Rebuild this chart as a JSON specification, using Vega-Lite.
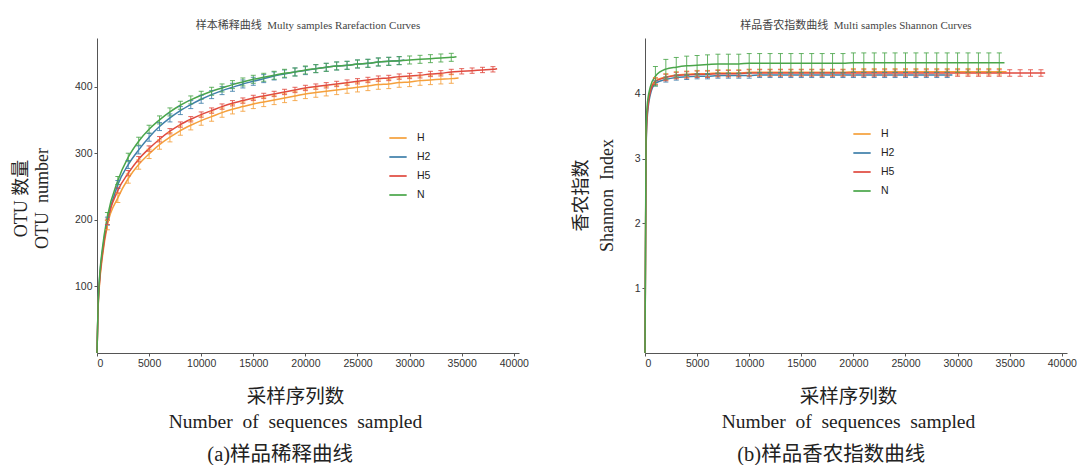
{
"$schema": "https://vega.github.io/schema/vega-lite/v6.json",
"padding": {"left": 12, "top": 20, "right": 0, "bottom": 0},
"background": "white",
"spacing": 43,
"config": {
  "view": {"stroke": null},
  "axis": {"grid": false, "labelFont": "Liberation Sans", "labelFontSize": 10.5, "labelColor": "#333", "domainColor": "#555", "tickColor": "#555", "tickSize": 3, "titleFont": "Liberation Serif, Noto Sans CJK SC", "titleFontSize": 18, "titleFontWeight": "normal", "titleColor": "#222"},
  "legend": {"orient": "none", "symbolType": "stroke", "symbolSize": 300, "symbolStrokeWidth": 2, "labelFont": "Liberation Sans", "labelFontSize": 10.5, "labelColor": "#222", "rowPadding": 3, "labelOffset": 9, "padding": 0},
  "title": {"font": "Liberation Serif, Noto Sans CJK SC", "fontSize": 11, "fontWeight": "normal", "color": "#444", "offset": 7, "anchor": "middle"}
},
"resolve": {"scale": {"color": "independent"}},
"datasets": {
"otu": [
{"g":"H","x":0,"y":0,"e":0},{"g":"H","x":100,"y":64,"e":0},{"g":"H","x":250,"y":105,"e":0},{"g":"H","x":500,"y":142,"e":0},
{"g":"H","x":1000,"y":192,"e":7},{"g":"H","x":2000,"y":233,"e":7},{"g":"H","x":3000,"y":262,"e":7},{"g":"H","x":4000,"y":283,"e":7},{"g":"H","x":5000,"y":299,"e":7},{"g":"H","x":6000,"y":313,"e":7},{"g":"H","x":7000,"y":324,"e":7},{"g":"H","x":8000,"y":334,"e":7},{"g":"H","x":9000,"y":342,"e":7},{"g":"H","x":10000,"y":349,"e":7},
{"g":"H","x":11000,"y":355,"e":7},{"g":"H","x":12000,"y":361,"e":7},{"g":"H","x":13000,"y":366,"e":7},{"g":"H","x":14000,"y":370,"e":7},{"g":"H","x":15000,"y":374,"e":7},{"g":"H","x":16000,"y":377,"e":7},{"g":"H","x":17000,"y":380,"e":7},{"g":"H","x":18000,"y":383,"e":7},{"g":"H","x":19000,"y":386,"e":7},{"g":"H","x":20000,"y":389,"e":7},
{"g":"H","x":21000,"y":391,"e":7},{"g":"H","x":22000,"y":393,"e":7},{"g":"H","x":23000,"y":395,"e":7},{"g":"H","x":24000,"y":397,"e":7},{"g":"H","x":25000,"y":399,"e":7},{"g":"H","x":26000,"y":401,"e":7},{"g":"H","x":27000,"y":403,"e":7},{"g":"H","x":28000,"y":404,"e":7},{"g":"H","x":29000,"y":406,"e":7},{"g":"H","x":30000,"y":407,"e":7},
{"g":"H","x":31000,"y":409,"e":7},{"g":"H","x":32000,"y":410,"e":7},{"g":"H","x":33000,"y":411,"e":7},{"g":"H","x":34000,"y":412,"e":7},{"g":"H","x":34700,"y":413,"e":0},
{"g":"H2","x":0,"y":0,"e":0},{"g":"H2","x":100,"y":68,"e":0},{"g":"H2","x":250,"y":112,"e":0},{"g":"H2","x":500,"y":150,"e":0},
{"g":"H2","x":1000,"y":198,"e":6},{"g":"H2","x":2000,"y":253,"e":6},{"g":"H2","x":3000,"y":283,"e":6},{"g":"H2","x":4000,"y":305,"e":6},{"g":"H2","x":5000,"y":324,"e":6},{"g":"H2","x":6000,"y":340,"e":6},{"g":"H2","x":7000,"y":353,"e":6},{"g":"H2","x":8000,"y":364,"e":6},{"g":"H2","x":9000,"y":373,"e":6},{"g":"H2","x":10000,"y":381,"e":6},
{"g":"H2","x":11000,"y":388,"e":6},{"g":"H2","x":12000,"y":394,"e":6},{"g":"H2","x":13000,"y":399,"e":6},{"g":"H2","x":14000,"y":404,"e":6},{"g":"H2","x":15000,"y":408,"e":6},{"g":"H2","x":16000,"y":412,"e":6},{"g":"H2","x":17000,"y":416,"e":6},{"g":"H2","x":18000,"y":419,"e":6},{"g":"H2","x":19000,"y":422,"e":6},{"g":"H2","x":20000,"y":424,"e":6},
{"g":"H2","x":21000,"y":427,"e":6},{"g":"H2","x":22000,"y":429,"e":6},{"g":"H2","x":23000,"y":431,"e":6},{"g":"H2","x":24000,"y":432,"e":6},{"g":"H2","x":25000,"y":434,"e":6},{"g":"H2","x":26000,"y":435,"e":6},{"g":"H2","x":27000,"y":437,"e":6},{"g":"H2","x":28000,"y":438,"e":6},{"g":"H2","x":29000,"y":439,"e":6},{"g":"H2","x":29500,"y":440,"e":0},
{"g":"H5","x":0,"y":0,"e":0},{"g":"H5","x":100,"y":66,"e":0},{"g":"H5","x":250,"y":108,"e":0},{"g":"H5","x":500,"y":146,"e":0},
{"g":"H5","x":1000,"y":197,"e":4},{"g":"H5","x":2000,"y":244,"e":4},{"g":"H5","x":3000,"y":270,"e":4},{"g":"H5","x":4000,"y":291,"e":4},{"g":"H5","x":5000,"y":307,"e":4},{"g":"H5","x":6000,"y":321,"e":4},{"g":"H5","x":7000,"y":333,"e":4},{"g":"H5","x":8000,"y":343,"e":4},{"g":"H5","x":9000,"y":351,"e":4},{"g":"H5","x":10000,"y":358,"e":4},
{"g":"H5","x":11000,"y":364,"e":4},{"g":"H5","x":12000,"y":370,"e":4},{"g":"H5","x":13000,"y":375,"e":4},{"g":"H5","x":14000,"y":379,"e":4},{"g":"H5","x":15000,"y":383,"e":4},{"g":"H5","x":16000,"y":386,"e":4},{"g":"H5","x":17000,"y":389,"e":4},{"g":"H5","x":18000,"y":392,"e":4},{"g":"H5","x":19000,"y":395,"e":4},{"g":"H5","x":20000,"y":398,"e":4},
{"g":"H5","x":21000,"y":400,"e":4},{"g":"H5","x":22000,"y":402,"e":4},{"g":"H5","x":23000,"y":404,"e":4},{"g":"H5","x":24000,"y":406,"e":4},{"g":"H5","x":25000,"y":408,"e":4},{"g":"H5","x":26000,"y":410,"e":4},{"g":"H5","x":27000,"y":412,"e":4},{"g":"H5","x":28000,"y":413,"e":4},{"g":"H5","x":29000,"y":415,"e":4},{"g":"H5","x":30000,"y":416,"e":4},
{"g":"H5","x":31000,"y":417,"e":4},{"g":"H5","x":32000,"y":419,"e":4},{"g":"H5","x":33000,"y":420,"e":4},{"g":"H5","x":34000,"y":422,"e":4},{"g":"H5","x":35000,"y":423,"e":4},{"g":"H5","x":36000,"y":424,"e":4},{"g":"H5","x":37000,"y":425,"e":4},{"g":"H5","x":38000,"y":426,"e":4},{"g":"H5","x":38400,"y":427,"e":0},
{"g":"N","x":0,"y":0,"e":0},{"g":"N","x":100,"y":70,"e":0},{"g":"N","x":250,"y":115,"e":0},{"g":"N","x":500,"y":155,"e":0},
{"g":"N","x":1000,"y":205,"e":6},{"g":"N","x":2000,"y":259,"e":6},{"g":"N","x":3000,"y":294,"e":6},{"g":"N","x":4000,"y":318,"e":6},{"g":"N","x":5000,"y":336,"e":6},{"g":"N","x":6000,"y":350,"e":6},{"g":"N","x":7000,"y":362,"e":6},{"g":"N","x":8000,"y":372,"e":6},{"g":"N","x":9000,"y":380,"e":6},{"g":"N","x":10000,"y":387,"e":6},
{"g":"N","x":11000,"y":393,"e":6},{"g":"N","x":12000,"y":398,"e":6},{"g":"N","x":13000,"y":403,"e":6},{"g":"N","x":14000,"y":407,"e":6},{"g":"N","x":15000,"y":411,"e":6},{"g":"N","x":16000,"y":414,"e":6},{"g":"N","x":17000,"y":417,"e":6},{"g":"N","x":18000,"y":420,"e":6},{"g":"N","x":19000,"y":422,"e":6},{"g":"N","x":20000,"y":425,"e":6},
{"g":"N","x":21000,"y":427,"e":6},{"g":"N","x":22000,"y":429,"e":6},{"g":"N","x":23000,"y":431,"e":6},{"g":"N","x":24000,"y":432,"e":6},{"g":"N","x":25000,"y":434,"e":6},{"g":"N","x":26000,"y":435,"e":6},{"g":"N","x":27000,"y":437,"e":6},{"g":"N","x":28000,"y":438,"e":6},{"g":"N","x":29000,"y":439,"e":6},{"g":"N","x":30000,"y":440,"e":6},
{"g":"N","x":31000,"y":441,"e":6},{"g":"N","x":32000,"y":442,"e":6},{"g":"N","x":33000,"y":443,"e":6},{"g":"N","x":34000,"y":444,"e":6},{"g":"N","x":34500,"y":445,"e":0}
],
"shannon": [
{"g":"H","x":0,"y":0,"e":0},{"g":"H","x":100,"y":3.2,"e":0},{"g":"H","x":200,"y":3.7,"e":0},{"g":"H","x":500,"y":4.05,"e":0},
{"g":"H","x":1000,"y":4.2,"e":0.05},{"g":"H","x":2000,"y":4.26,"e":0.05},{"g":"H","x":3000,"y":4.29,"e":0.05},{"g":"H","x":4000,"y":4.3,"e":0.05},{"g":"H","x":5000,"y":4.31,"e":0.05},{"g":"H","x":6000,"y":4.31,"e":0.05},{"g":"H","x":7000,"y":4.32,"e":0.05},{"g":"H","x":8000,"y":4.32,"e":0.05},{"g":"H","x":9000,"y":4.32,"e":0.05},{"g":"H","x":10000,"y":4.33,"e":0.05},
{"g":"H","x":11000,"y":4.33,"e":0.05},{"g":"H","x":12000,"y":4.33,"e":0.05},{"g":"H","x":13000,"y":4.33,"e":0.05},{"g":"H","x":14000,"y":4.33,"e":0.05},{"g":"H","x":15000,"y":4.33,"e":0.05},{"g":"H","x":16000,"y":4.33,"e":0.05},{"g":"H","x":17000,"y":4.33,"e":0.05},{"g":"H","x":18000,"y":4.33,"e":0.05},{"g":"H","x":19000,"y":4.33,"e":0.05},{"g":"H","x":20000,"y":4.34,"e":0.05},
{"g":"H","x":21000,"y":4.34,"e":0.05},{"g":"H","x":22000,"y":4.34,"e":0.05},{"g":"H","x":23000,"y":4.34,"e":0.05},{"g":"H","x":24000,"y":4.34,"e":0.05},{"g":"H","x":25000,"y":4.34,"e":0.05},{"g":"H","x":26000,"y":4.34,"e":0.05},{"g":"H","x":27000,"y":4.34,"e":0.05},{"g":"H","x":28000,"y":4.34,"e":0.05},{"g":"H","x":29000,"y":4.34,"e":0.05},{"g":"H","x":30000,"y":4.34,"e":0.05},
{"g":"H","x":31000,"y":4.34,"e":0.05},{"g":"H","x":32000,"y":4.34,"e":0.05},{"g":"H","x":33000,"y":4.34,"e":0.05},{"g":"H","x":34000,"y":4.34,"e":0.05},{"g":"H","x":34700,"y":4.34,"e":0},
{"g":"H2","x":0,"y":0,"e":0},{"g":"H2","x":100,"y":3.1,"e":0},{"g":"H2","x":200,"y":3.6,"e":0},{"g":"H2","x":500,"y":3.98,"e":0},
{"g":"H2","x":1000,"y":4.16,"e":0.04},{"g":"H2","x":2000,"y":4.22,"e":0.04},{"g":"H2","x":3000,"y":4.25,"e":0.04},{"g":"H2","x":4000,"y":4.26,"e":0.04},{"g":"H2","x":5000,"y":4.27,"e":0.04},{"g":"H2","x":6000,"y":4.27,"e":0.04},{"g":"H2","x":7000,"y":4.28,"e":0.04},{"g":"H2","x":8000,"y":4.28,"e":0.04},{"g":"H2","x":9000,"y":4.28,"e":0.04},{"g":"H2","x":10000,"y":4.28,"e":0.04},
{"g":"H2","x":11000,"y":4.29,"e":0.04},{"g":"H2","x":12000,"y":4.29,"e":0.04},{"g":"H2","x":13000,"y":4.29,"e":0.04},{"g":"H2","x":14000,"y":4.29,"e":0.04},{"g":"H2","x":15000,"y":4.29,"e":0.04},{"g":"H2","x":16000,"y":4.29,"e":0.04},{"g":"H2","x":17000,"y":4.29,"e":0.04},{"g":"H2","x":18000,"y":4.29,"e":0.04},{"g":"H2","x":19000,"y":4.29,"e":0.04},{"g":"H2","x":20000,"y":4.29,"e":0.04},
{"g":"H2","x":21000,"y":4.29,"e":0.04},{"g":"H2","x":22000,"y":4.29,"e":0.04},{"g":"H2","x":23000,"y":4.29,"e":0.04},{"g":"H2","x":24000,"y":4.29,"e":0.04},{"g":"H2","x":25000,"y":4.29,"e":0.04},{"g":"H2","x":26000,"y":4.29,"e":0.04},{"g":"H2","x":27000,"y":4.29,"e":0.04},{"g":"H2","x":28000,"y":4.29,"e":0.04},{"g":"H2","x":29000,"y":4.29,"e":0.04},{"g":"H2","x":29500,"y":4.29,"e":0},
{"g":"H5","x":0,"y":0,"e":0},{"g":"H5","x":100,"y":3.15,"e":0},{"g":"H5","x":200,"y":3.65,"e":0},{"g":"H5","x":500,"y":4.02,"e":0},
{"g":"H5","x":1000,"y":4.19,"e":0.05},{"g":"H5","x":2000,"y":4.25,"e":0.05},{"g":"H5","x":3000,"y":4.28,"e":0.05},{"g":"H5","x":4000,"y":4.29,"e":0.05},{"g":"H5","x":5000,"y":4.3,"e":0.05},{"g":"H5","x":6000,"y":4.3,"e":0.05},{"g":"H5","x":7000,"y":4.31,"e":0.05},{"g":"H5","x":8000,"y":4.31,"e":0.05},{"g":"H5","x":9000,"y":4.31,"e":0.05},{"g":"H5","x":10000,"y":4.32,"e":0.05},
{"g":"H5","x":11000,"y":4.32,"e":0.05},{"g":"H5","x":12000,"y":4.32,"e":0.05},{"g":"H5","x":13000,"y":4.32,"e":0.05},{"g":"H5","x":14000,"y":4.32,"e":0.05},{"g":"H5","x":15000,"y":4.32,"e":0.05},{"g":"H5","x":16000,"y":4.32,"e":0.05},{"g":"H5","x":17000,"y":4.32,"e":0.05},{"g":"H5","x":18000,"y":4.32,"e":0.05},{"g":"H5","x":19000,"y":4.32,"e":0.05},{"g":"H5","x":20000,"y":4.32,"e":0.05},
{"g":"H5","x":21000,"y":4.32,"e":0.05},{"g":"H5","x":22000,"y":4.32,"e":0.05},{"g":"H5","x":23000,"y":4.32,"e":0.05},{"g":"H5","x":24000,"y":4.32,"e":0.05},{"g":"H5","x":25000,"y":4.32,"e":0.05},{"g":"H5","x":26000,"y":4.32,"e":0.05},{"g":"H5","x":27000,"y":4.32,"e":0.05},{"g":"H5","x":28000,"y":4.32,"e":0.05},{"g":"H5","x":29000,"y":4.32,"e":0.05},{"g":"H5","x":30000,"y":4.32,"e":0.05},
{"g":"H5","x":31000,"y":4.32,"e":0.05},{"g":"H5","x":32000,"y":4.32,"e":0.05},{"g":"H5","x":33000,"y":4.32,"e":0.05},{"g":"H5","x":34000,"y":4.32,"e":0.05},{"g":"H5","x":35000,"y":4.32,"e":0.05},{"g":"H5","x":36000,"y":4.32,"e":0.05},{"g":"H5","x":37000,"y":4.32,"e":0.05},{"g":"H5","x":38000,"y":4.32,"e":0.05},{"g":"H5","x":38400,"y":4.32,"e":0},
{"g":"N","x":0,"y":0,"e":0},{"g":"N","x":100,"y":3.4,"e":0},{"g":"N","x":200,"y":3.8,"e":0},{"g":"N","x":500,"y":4.1,"e":0},
{"g":"N","x":1000,"y":4.27,"e":0.15},{"g":"N","x":2000,"y":4.38,"e":0.15},{"g":"N","x":3000,"y":4.41,"e":0.15},{"g":"N","x":4000,"y":4.43,"e":0.15},{"g":"N","x":5000,"y":4.44,"e":0.15},{"g":"N","x":6000,"y":4.45,"e":0.15},{"g":"N","x":7000,"y":4.46,"e":0.15},{"g":"N","x":8000,"y":4.46,"e":0.15},{"g":"N","x":9000,"y":4.46,"e":0.15},{"g":"N","x":10000,"y":4.47,"e":0.15},
{"g":"N","x":11000,"y":4.47,"e":0.15},{"g":"N","x":12000,"y":4.47,"e":0.15},{"g":"N","x":13000,"y":4.47,"e":0.15},{"g":"N","x":14000,"y":4.47,"e":0.15},{"g":"N","x":15000,"y":4.47,"e":0.15},{"g":"N","x":16000,"y":4.47,"e":0.15},{"g":"N","x":17000,"y":4.47,"e":0.15},{"g":"N","x":18000,"y":4.47,"e":0.15},{"g":"N","x":19000,"y":4.47,"e":0.15},{"g":"N","x":20000,"y":4.48,"e":0.15},
{"g":"N","x":21000,"y":4.48,"e":0.15},{"g":"N","x":22000,"y":4.48,"e":0.15},{"g":"N","x":23000,"y":4.48,"e":0.15},{"g":"N","x":24000,"y":4.48,"e":0.15},{"g":"N","x":25000,"y":4.48,"e":0.15},{"g":"N","x":26000,"y":4.48,"e":0.15},{"g":"N","x":27000,"y":4.48,"e":0.15},{"g":"N","x":28000,"y":4.48,"e":0.15},{"g":"N","x":29000,"y":4.48,"e":0.15},{"g":"N","x":30000,"y":4.48,"e":0.15},
{"g":"N","x":31000,"y":4.48,"e":0.15},{"g":"N","x":32000,"y":4.48,"e":0.15},{"g":"N","x":33000,"y":4.48,"e":0.15},{"g":"N","x":34000,"y":4.48,"e":0.15},{"g":"N","x":34500,"y":4.48,"e":0}
]
},
"hconcat": [
{
  "title": {"text": "(a)样品稀释曲线", "orient": "bottom", "fontSize": 20.5, "color": "#222", "offset": 14, "dx": 10},
  "vconcat": [
  {
    "width": 422, "height": 315,
    "title": {"text": "样本稀释曲线\u2002Multy samples Rarefaction Curves"},
    "data": {"name": "otu"},
    "encoding": {
      "x": {"field": "x", "type": "quantitative", "scale": {"domain": [0, 40500], "nice": false},
            "axis": {"values": [0,5000,10000,15000,20000,25000,30000,35000,40000], "format": "d",
                     "title": ["采样序列数", "Number\u2002of\u2002sequences\u2002sampled"],
                     "titleFontSize": 19.5, "titleLineHeight": 25, "titleX": 198, "titleY": 34, "titleBaseline": "top"}},
      "y": {"field": "y", "type": "quantitative", "scale": {"domain": [0, 473], "nice": false},
            "axis": {"values": [100,200,300,400], "title": ["OTU 数量", "OTU\u2002number"], "titleLineHeight": 21, "titleX": -76, "titleY": 160, "titleBaseline": "middle", "titleAngle": 270}},
      "color": {"field": "g", "type": "nominal", "scale": {"domain": ["H","H2","H5","N"], "range": ["#f5a03c","#3f7faa","#e04a3f","#4aa64a"]},
                "legend": {"title": null, "legendX": 291, "legendY": 90}}
    },
    "layer": [
      {"mark": {"type": "line", "strokeWidth": 1.5, "interpolate": "monotone"}},
      {"transform": [{"filter": "datum.e > 0"}], "mark": {"type": "errorbar", "ticks": {"size": 5}, "thickness": 1, "opacity": 0.85}, "encoding": {"yError": {"field": "e"}}}
    ]
  }
  ]
},
{
  "title": {"text": "(b)样品香农指数曲线", "orient": "bottom", "fontSize": 20.5, "color": "#222", "offset": 14, "dx": 7},
  "vconcat": [
  {
    "width": 422, "height": 315,
    "title": {"text": "样品香农指数曲线\u2002Multi samples Shannon Curves"},
    "data": {"name": "shannon"},
    "encoding": {
      "x": {"field": "x", "type": "quantitative", "scale": {"domain": [0, 40500], "nice": false},
            "axis": {"values": [0,5000,10000,15000,20000,25000,30000,35000,40000], "format": "d",
                     "title": ["采样序列数", "Number\u2002of\u2002sequences\u2002sampled"],
                     "titleFontSize": 19.5, "titleLineHeight": 25, "titleX": 203, "titleY": 34, "titleBaseline": "top"}},
      "y": {"field": "y", "type": "quantitative", "scale": {"domain": [0, 4.86], "nice": false},
            "axis": {"values": [1,2,3,4], "title": ["香农指数", "Shannon\u2002Index"], "titleLineHeight": 26, "titleX": -64, "titleY": 157, "titleBaseline": "middle", "titleAngle": 270}},
      "color": {"field": "g", "type": "nominal", "scale": {"domain": ["H","H2","H5","N"], "range": ["#f5a03c","#3f7faa","#e04a3f","#4aa64a"]},
                "legend": {"title": null, "legendX": 207, "legendY": 86}}
    },
    "layer": [
      {"mark": {"type": "line", "strokeWidth": 1.5, "interpolate": "monotone"}},
      {"transform": [{"filter": "datum.e > 0"}], "mark": {"type": "errorbar", "ticks": {"size": 5}, "thickness": 1, "opacity": 0.85}, "encoding": {"yError": {"field": "e"}}}
    ]
  }
  ]
}
]
}
